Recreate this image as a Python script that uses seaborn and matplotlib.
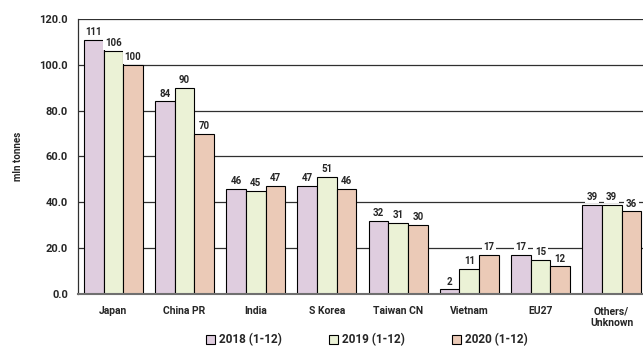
import pandas as pd
import seaborn as sns
import matplotlib.pyplot as plt

countries = ['Japan', 'China PR', 'India', 'S Korea', 'Taiwan CN', 'Vietnam', 'EU27', 'Others/\nUnknown']
years = ['2018 (1-12)', '2019 (1-12)', '2020 (1-12)']
v2018 = [111, 84, 46, 47, 32, 2, 17, 39]
v2019 = [106, 90, 45, 51, 31, 11, 15, 39]
v2020 = [100, 70, 47, 46, 30, 17, 12, 36]
colors = ['#E2CAE2', '#EDF6D2', '#F4C7AE']

df = pd.DataFrame({
    'country': countries * 3,
    'year': [years[0]] * 8 + [years[1]] * 8 + [years[2]] * 8,
    'value': v2018 + v2019 + v2020,
})

sns.set_style('white')
plt.rcParams['font.family'] = ['Roboto', 'DejaVu Sans']

fig = plt.figure(figsize=(6.43, 3.52), dpi=100)
ax = fig.add_axes([0.121, 0.165, 0.879, 0.781])

ax.set_axisbelow(True)
ax.yaxis.grid(True, color='#303030', linewidth=0.9)
sns.barplot(data=df, x='country', y='value', hue='year', palette=colors,
            width=0.83, edgecolor='black', linewidth=0.8, ax=ax, legend=True)

for c in ax.containers:
    ax.bar_label(c, fmt='%.0f', padding=2, fontsize=7, fontweight='bold',
                 bbox=dict(facecolor='white', edgecolor='none', pad=1.2))

ax.set_ylim(0, 120)
ax.set_xlim(-0.5, 7.44)
ax.set_yticks(range(0, 121, 20))
ax.set_yticklabels([f'{t:.1f}' for t in range(0, 121, 20)], fontsize=8, fontweight='bold')
ax.set_xticks(range(len(countries)))
ax.set_xticklabels(countries, fontsize=7.5, fontweight='bold')
ax.tick_params(axis='y', length=4, width=0.8, color='#303030', pad=3)
ax.tick_params(axis='x', length=0, pad=9)
ax.set_xlabel('')
ax.set_ylabel('mln tonnes', fontsize=7, fontweight='bold', labelpad=12)

for s in ['top', 'right']:
    ax.spines[s].set_visible(False)
ax.spines['left'].set_color('#303030')
ax.spines['left'].set_linewidth(0.9)
ax.spines['bottom'].set_color('#707070')
ax.spines['bottom'].set_linewidth(1.5)

handles, labels = ax.get_legend_handles_labels()
ax.legend_.remove()
fig.legend(handles, labels, loc='center', bbox_to_anchor=(0.57, 0.035), ncol=3,
           frameon=False, handlelength=0.8, handleheight=0.8,
           handletextpad=0.3, columnspacing=4.0, prop={'weight': 'bold', 'size': 8.5})

fig.savefig('out.png', dpi=100)
